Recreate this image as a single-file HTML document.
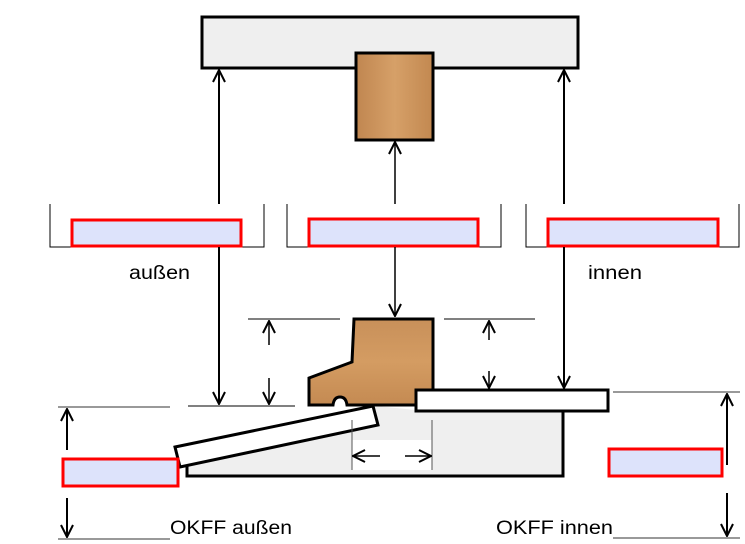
<!DOCTYPE html>
<html><head><meta charset="utf-8"><style>
html,body{margin:0;padding:0;background:#fff;}
svg{display:block;}
text{font-family:"Liberation Sans",sans-serif;}
</style></head><body>
<svg width="745" height="544" viewBox="0 0 745 544" xmlns="http://www.w3.org/2000/svg">
<defs>
<marker id="ah" viewBox="0 0 14 14" refX="13" refY="7" markerWidth="14" markerHeight="14" markerUnits="userSpaceOnUse" orient="auto">
<path d="M1,1 L13,7 L1,13" fill="none" stroke="#000" stroke-width="2"/>
</marker>
<linearGradient id="wood" x1="0" y1="0" x2="0" y2="1">
<stop offset="0" stop-color="#c8905a"/><stop offset="0.5" stop-color="#d49c62"/><stop offset="1" stop-color="#c48a52"/>
</linearGradient>
<linearGradient id="woodv" x1="0" y1="0" x2="1" y2="0">
<stop offset="0" stop-color="#c08650"/><stop offset="0.5" stop-color="#d6a068"/><stop offset="1" stop-color="#c28850"/>
</linearGradient>
</defs>
<rect x="202" y="17" width="376" height="51" fill="#efefef" stroke="#000" stroke-width="3"/>
<rect x="356" y="53" width="77" height="87" fill="url(#woodv)" stroke="#000" stroke-width="3"/>
<line x1="219" y1="204" x2="219" y2="70" stroke="#000" stroke-width="2" marker-end="url(#ah)"/>
<line x1="395" y1="204" x2="395" y2="142" stroke="#000" stroke-width="1.5" marker-end="url(#ah)"/>
<line x1="564" y1="204" x2="564" y2="70" stroke="#000" stroke-width="2" marker-end="url(#ah)"/>
<g fill="none" stroke="#000" stroke-width="1">
<path d="M50,204 V247 H264 V204"/>
<path d="M287,204 V247 H501 V204"/>
<path d="M526,204 V247 H739 V204"/>
</g>
<g fill="#dde3fb" stroke="#f00" stroke-width="3">
<rect x="72" y="220" width="169" height="26"/>
<rect x="309" y="219" width="169" height="27"/>
<rect x="548" y="219" width="170" height="27"/>
</g>
<text x="129" y="279" font-size="19" textLength="61" lengthAdjust="spacingAndGlyphs">außen</text>
<text x="588" y="279" font-size="19" textLength="54" lengthAdjust="spacingAndGlyphs">innen</text>
<line x1="219" y1="247" x2="219" y2="404" stroke="#000" stroke-width="2" marker-end="url(#ah)"/>
<line x1="395" y1="247" x2="395" y2="316" stroke="#000" stroke-width="1.5" marker-end="url(#ah)"/>
<line x1="564" y1="247" x2="564" y2="388" stroke="#000" stroke-width="2" marker-end="url(#ah)"/>
<g stroke="#000" stroke-width="1">
<line x1="188" y1="406" x2="295" y2="406"/>
<line x1="248" y1="319" x2="340" y2="319"/>
<line x1="444" y1="319" x2="535" y2="319"/>
</g>
<line x1="269" y1="345" x2="269" y2="321" stroke="#000" stroke-width="1.5" marker-end="url(#ah)"/>
<line x1="269" y1="378" x2="269" y2="404" stroke="#000" stroke-width="1.5" marker-end="url(#ah)"/>
<line x1="489" y1="340" x2="489" y2="321" stroke="#000" stroke-width="1.5" marker-end="url(#ah)"/>
<line x1="489" y1="371" x2="489" y2="388" stroke="#000" stroke-width="1.5" marker-end="url(#ah)"/>
<path d="M187,476 L563,476 L563,410 L416,410 L376,406 L374,406 L378,425 L187,466 Z" fill="#efefef" stroke="none"/>
<path d="M187,466 V476 H563 V411" fill="none" stroke="#000" stroke-width="3"/>
<polygon points="175,447 373,406 378,425 180,467" fill="#fff" stroke="#000" stroke-width="3"/>
<path d="M354,319 L433,319 L433,405 L347,405 Q346,397 340,397 Q334,397 333,405 L309,405 L309,378 L352,362 Z" fill="url(#wood)" stroke="#000" stroke-width="3"/>
<rect x="416" y="390" width="192" height="21" fill="#fff" stroke="#000" stroke-width="3"/>
<rect x="352" y="440" width="80" height="30" fill="#fff"/>
<line x1="352" y1="420" x2="352" y2="470" stroke="#555" stroke-width="1"/>
<line x1="432" y1="420" x2="432" y2="470" stroke="#555" stroke-width="1"/>
<line x1="380" y1="456" x2="353" y2="456" stroke="#000" stroke-width="1.5" marker-end="url(#ah)"/>
<line x1="405" y1="456" x2="431" y2="456" stroke="#000" stroke-width="1.5" marker-end="url(#ah)"/>
<line x1="58" y1="407" x2="170" y2="407" stroke="#999" stroke-width="2"/>
<line x1="58" y1="539" x2="170" y2="539" stroke="#999" stroke-width="2"/>
<line x1="67" y1="450" x2="67" y2="409" stroke="#000" stroke-width="2" marker-end="url(#ah)"/>
<line x1="67" y1="498" x2="67" y2="537" stroke="#000" stroke-width="2" marker-end="url(#ah)"/>
<rect x="63" y="459" width="115" height="27" fill="#dde3fb" stroke="#f00" stroke-width="3"/>
<text x="170" y="534" font-size="19" textLength="122" lengthAdjust="spacingAndGlyphs">OKFF außen</text>
<line x1="613" y1="392" x2="740" y2="392" stroke="#999" stroke-width="2"/>
<line x1="613" y1="538" x2="740" y2="538" stroke="#999" stroke-width="2"/>
<line x1="727" y1="465" x2="727" y2="394" stroke="#000" stroke-width="2" marker-end="url(#ah)"/>
<line x1="727" y1="493" x2="727" y2="536" stroke="#000" stroke-width="2" marker-end="url(#ah)"/>
<rect x="609" y="449" width="113" height="27" fill="#dde3fb" stroke="#f00" stroke-width="3"/>
<text x="496" y="534" font-size="19" textLength="117" lengthAdjust="spacingAndGlyphs">OKFF innen</text>
</svg>
</body></html>
